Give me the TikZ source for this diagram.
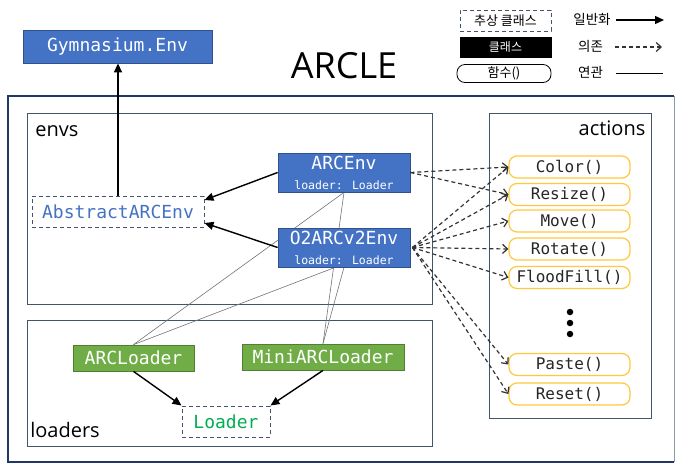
\documentclass[tikz,border=0pt]{standalone}
\usepackage{fontspec}
\usetikzlibrary{arrows.meta,calc}
\newfontfamily\monof{DejaVu Sans Mono}
\newfontfamily\sansf{Open Sans}
\newfontfamily\krf{Noto Sans CJK KR}
\definecolor{clsblue}{HTML}{4472C4}
\definecolor{clsborder}{HTML}{2F528F}
\definecolor{ldgreen}{HTML}{70AD47}
\definecolor{ldborder}{HTML}{507E32}
\definecolor{actgold}{HTML}{FFC83D}
\definecolor{navy}{HTML}{1F3864}
\definecolor{grpc}{HTML}{44546A}
\definecolor{txgreen}{HTML}{00B050}
\pgfdeclarelayer{bg}
\pgfsetlayers{bg,main}
\tikzset{
  cls/.style={draw=clsborder, fill=clsblue, line width=0.8pt, text=white, inner sep=0pt,
    font=\monof\fontsize{18}{20}\selectfont},
  ldr/.style={draw=ldborder, fill=ldgreen, line width=0.8pt, text=white, inner sep=0pt,
    minimum height=26pt, font=\monof\fontsize{18}{20}\selectfont},
  abst/.style={draw=grpc, fill=white, dash pattern=on 4pt off 3pt, line width=1pt, inner sep=0pt},
  act/.style={draw=actgold, fill=white, rounded corners=8pt, line width=1.2pt, minimum width=121pt,
    minimum height=22pt, inner sep=0pt, text=black!85, font=\monof\fontsize{16}{18}\selectfont},
  grp/.style={draw=grpc, line width=1pt},
  inh/.style={-{Triangle[length=9pt,width=8pt]}, line width=1.4pt},
  dep/.style={-{Straight Barb[length=5pt,width=9pt]}, dash pattern=on 4pt off 3pt, line width=1.2pt, draw=black!80},
  asc/.style={draw=black!55, line width=0.6pt},
  grplabel/.style={inner sep=0pt, font=\sansf\fontsize{20}{22}\selectfont},
  lgtext/.style={inner sep=0pt, font=\krf\fontsize{13.5}{15}\selectfont},
  dotc/.style={circle, fill=black, inner sep=0pt, minimum size=6.5pt}
}
\begin{document}
\begin{tikzpicture}[x=1pt,y=-1pt]
\useasboundingbox (0,0) rectangle (678,464);

% title
\node[inner sep=0pt, font=\sansf\fontsize{36}{40}\selectfont] (title) at (344,66) {ARCLE};

% legend
\node[abst, minimum width=91pt, minimum height=21pt, font=\krf\fontsize{13}{14}\selectfont] (lgabs) at (505.5,20.5) {추상 클래스};
\node[draw=black, fill=black, text=white, minimum width=91pt, minimum height=20pt, inner sep=0pt, font=\krf\fontsize{12}{14}\selectfont] (lgcls) at (505.5,47) {클래스};
\node[draw=black, rounded corners=8pt, line width=0.8pt, minimum width=94pt, minimum height=18pt, inner sep=0pt, font=\krf\fontsize{13}{14}\selectfont] (lgfun) at (504,73.5) {함수()};
\node[lgtext] (lgt1) at (592,19) {일반화};
\node[lgtext] (lgt2) at (590.5,46) {의존};
\node[lgtext] (lgt3) at (590.5,72) {연관};
\coordinate (la1) at (616,20); \coordinate (lb1) at (664,20);
\coordinate (la2) at (615,47); \coordinate (lb2) at (662,47);
\coordinate (la3) at (616,73); \coordinate (lb3) at (663,73);
\draw[inh] (la1) -- (lb1);
\draw[dep] (la2) -- (lb2);
\draw[line width=0.7pt] (la3) -- (lb3);

% group frames
\begin{pgfonlayer}{bg}
\draw[navy, line width=2.6pt] (674,96) -- (8,96) -- (8,462) -- (674,462);
\draw[grpc!60, line width=0.8pt] (674,96) -- (674,462);
\draw[grp] (27,113) rectangle (432,304);
\draw[grp] (27,320) rectangle (432,446);
\draw[grp] (489,113) rectangle (651,418);
\end{pgfonlayer}
\node[grplabel] (envslbl) at (57,131) {envs};
\node[grplabel] (loaderslbl) at (65,430) {loaders};
\node[grplabel] (actionslbl) at (612,128) {actions};

% class nodes
\node[cls, minimum width=189pt, minimum height=33pt] (gym) at (117.5,46.5) {Gymnasium.Env};
\node[abst, minimum width=172pt, minimum height=31pt, text=clsblue, font=\monof\fontsize{18}{20}\selectfont] (abs) at (118,211.5) {AbstractARCEnv};
\node[cls, minimum width=132pt, minimum height=39pt, align=center] (arcenv) at (344,172.5)
  {\fontsize{18}{17}\selectfont ARCEnv\\\fontsize{11.5}{15}\selectfont loader: Loader};
\node[cls, minimum width=132pt, minimum height=39pt, align=center] (o2) at (344,247.5)
  {\fontsize{18}{17}\selectfont O2ARCv2Env\\\fontsize{11.5}{15}\selectfont loader: Loader};
\node[ldr, minimum width=121pt] (arcl) at (133.5,358) {ARCLoader};
\node[ldr, minimum width=162pt] (mini) at (323,357) {MiniARCLoader};
\node[abst, minimum width=88pt, minimum height=31pt, text=txgreen, font=\monof\fontsize{18}{20}\selectfont] (loader) at (226,421.5) {Loader};

% action nodes
\node[act] (color) at (569.5,167) {Color()};
\node[act] (resize) at (569.5,194.5) {Resize()};
\node[act] (move) at (569.5,221) {Move()};
\node[act] (rotate) at (569.5,249) {Rotate()};
\node[act] (flood) at (569.5,277.5) {FloodFill()};
\node[dotc] (d1) at (570,312) {};
\node[dotc] (d2) at (570,323) {};
\node[dotc] (d3) at (570,334) {};
\node[act] (paste) at (569.5,364.5) {Paste()};
\node[act] (reset) at (569.5,394) {Reset()};

% associations (behind)
\begin{pgfonlayer}{bg}
\draw[asc] (arcenv.south) -- (arcl.north);
\draw[asc] (arcenv.south) -- (mini.north);
\draw[asc] (o2.south) -- (mini.north);
\draw[asc] ([xshift=-9pt]o2.south) -- (arcl.north);
\end{pgfonlayer}

% inheritance
\draw[inh] (abs.north) -- (abs.north |- gym.south);
\draw[inh] (arcenv.west) -- ([yshift=11.5pt]abs.east);
\draw[inh] (o2.west) -- ([yshift=-11.5pt]abs.east);
\draw[inh] (arcl.south) -- (loader.north west);
\draw[inh] (mini.south) -- (loader.north east);

% dependencies
\draw[dep] (arcenv.east) -- (color.west);
\draw[dep] (arcenv.east) -- (resize.west);
\foreach \t in {color,resize,move,rotate,flood,paste,reset}
  \draw[dep] ([xshift=2pt]o2.east) -- (\t.west);
\end{tikzpicture}
\end{document}
